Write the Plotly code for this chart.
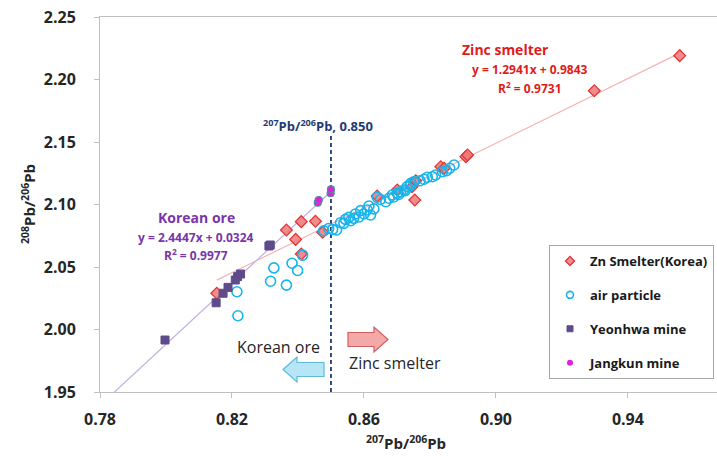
import plotly.graph_objects as go

# ---------------- data ----------------
zn_x = [0.8154, 0.8365, 0.8410, 0.8453, 0.8393, 0.8410, 0.8475, 0.8640, 0.8701,
        0.8746, 0.8757, 0.8754, 0.8833, 0.8843, 0.8909, 0.8914, 0.9298, 0.9557]
zn_y = [2.0290, 2.0796, 2.0863, 2.0866, 2.0721, 2.0604, 2.0778, 2.1068, 2.1116,
        2.1143, 2.1190, 2.1036, 2.1302, 2.1290, 2.1383, 2.1396, 2.1910, 2.2191]

air_x = [0.8218, 0.8215, 0.8317, 0.8327, 0.8365, 0.8382, 0.8399, 0.8414, 0.8478,
         0.8493, 0.8505, 0.8517, 0.8529, 0.8539, 0.8544, 0.8554, 0.8560, 0.8569,
         0.8574, 0.8585, 0.8590, 0.8600, 0.8610, 0.8615, 0.8620, 0.8630, 0.8640,
         0.8650, 0.8666, 0.8676, 0.8686, 0.8690, 0.8701, 0.8705, 0.8711, 0.8721,
         0.8725, 0.8731, 0.8740, 0.8742, 0.8751, 0.8770, 0.8782, 0.8792, 0.8807,
         0.8817, 0.8838, 0.8850, 0.8860, 0.8873]
air_y = [2.0110, 2.0302, 2.0386, 2.0493, 2.0355, 2.0530, 2.0472, 2.0595, 2.0790,
         2.0808, 2.0800, 2.0796, 2.0854, 2.0849, 2.0881, 2.0897, 2.0870, 2.0889,
         2.0924, 2.0900, 2.0951, 2.0924, 2.0956, 2.0988, 2.0916, 2.0965, 2.1058,
         2.1040, 2.1022, 2.1050, 2.1076, 2.1060, 2.1090, 2.1080, 2.1102, 2.1116,
         2.1110, 2.1143, 2.1150, 2.1170, 2.1182, 2.1190, 2.1202, 2.1218, 2.1222,
         2.1236, 2.1262, 2.1270, 2.1290, 2.1316]

yeon_x = [0.7997, 0.8152, 0.8173, 0.8188, 0.8210, 0.8217, 0.8226, 0.8312, 0.8316]
yeon_y = [1.9916, 2.0214, 2.0290, 2.0337, 2.0396, 2.0423, 2.0444, 2.0668, 2.0676]

jang_x = [0.8460, 0.8463, 0.8499, 0.8500]
jang_y = [2.1015, 2.1036, 2.1090, 2.1121]

zn_slope, zn_intercept = 1.2941, 0.9843
ko_slope, ko_intercept = 2.4447, 0.0324
divide_x = 0.850

x_ticks = [0.78, 0.82, 0.86, 0.90, 0.94]
y_ticks = [1.95, 2.00, 2.05, 2.10, 2.15, 2.20, 2.25]

# ---------------- layout helpers ----------------
W, H = 717, 456
L, R, T, B = 100, 0, 17, 64
PW, PH = W - L - R, H - T - B


def pp(px, py):
    return (px - L) / PW, (H - B - py) / PH


FONT = "Open Sans"

fig = go.Figure()

# trend lines
zx = [min(zn_x), max(zn_x)]
fig.add_trace(go.Scatter(x=zx, y=[zn_slope * v + zn_intercept for v in zx], mode="lines",
                         line=dict(color="#f5b4b4", width=1.2), showlegend=False, hoverinfo="skip"))
kx = [x_ticks[0], max(jang_x) + 0.0005]
fig.add_trace(go.Scatter(x=kx, y=[ko_slope * v + ko_intercept for v in kx], mode="lines",
                         line=dict(color="#c0b0e0", width=1.2), showlegend=False, hoverinfo="skip"))

# dashed divider
fig.add_trace(go.Scatter(x=[divide_x, divide_x], y=[1.95, 2.155], mode="lines",
                         line=dict(color="#1f3b73", width=1.8, dash="4px,3px"),
                         showlegend=False, hoverinfo="skip"))

series = [
    ("Zn Smelter(Korea)", zn_x, zn_y, dict(symbol="diamond", color="rgba(240,120,120,0.85)",
                                          line=dict(color="#e03535", width=1.3)), 9, 7),
    ("air particle", air_x, air_y, dict(symbol="circle-open", color="#18b4ec",
                                        line=dict(color="#18b4ec", width=1.6)), 10, 7),
    ("Yeonhwa mine", yeon_x, yeon_y, dict(symbol="square", color="#5f4b8b",
                                          line=dict(color="#5f4b8b", width=1)), 8, 6),
    ("Jangkun mine", jang_x, jang_y, dict(symbol="circle", color="#e020e0",
                                          line=dict(color="#4a8f9a", width=1.2)), 7, 6),
]
for name, xs, ys, mk, size, lsize in series:
    fig.add_trace(go.Scatter(x=xs, y=ys, mode="markers", name=name, showlegend=False,
                             marker=dict(size=size, **mk)))
for i, (name, xs, ys, mk, size, lsize) in enumerate(series):
    mk2 = dict(mk)
    if name == "Jangkun mine":
        mk2 = dict(mk, line=dict(color="#e020e0", width=0))
    fig.add_trace(go.Scatter(x=[None], y=[None], mode="markers", name=name, legendgroup=f"g{i}",
                             marker=dict(size=lsize, **mk2)))

ann = []


def add_text(px, py, text, size, color, bold=False, angle=0, xanchor="center"):
    x, y = pp(px, py)
    ann.append(dict(x=x, y=y, xref="paper", yref="paper", text=text, showarrow=False,
                    xanchor=xanchor, yanchor="middle", textangle=angle,
                    font=dict(family=FONT, size=size, color=color, weight="bold" if bold else "normal")))


add_text(505, 49, "Zinc smelter", 14, "#e01b1b", True)
add_text(530, 69, "y = 1.2941x + 0.9843", 12, "#e01b1b", True)
add_text(530, 88, "R<sup>2</sup> = 0.9731", 12, "#e01b1b", True)
add_text(196, 217, "Korean ore", 14, "#7a35a8", True)
add_text(196, 237, "y = 2.4447x + 0.0324", 12, "#7a35a8", True)
add_text(196, 255, "R<sup>2</sup> = 0.9977", 12, "#7a35a8", True)
add_text(318, 125, "<sup>207</sup>Pb/<sup>206</sup>Pb, 0.850", 13, "#1f3b73", True)
add_text(278, 347, "Korean ore", 16, "#262626")
add_text(395, 363, "Zinc smelter", 16, "#262626")
add_text(406, 442, "<sup>207</sup>Pb/<sup>206</sup>Pb", 15, "#262626", True)
add_text(28, 204, "<sup>208</sup>Pb/<sup>206</sup>Pb", 15, "#262626", True, angle=-90)


def poly(points):
    s = ""
    for i, (px, py) in enumerate(points):
        x, y = pp(px, py)
        s += ("M" if i == 0 else "L") + f"{x:.5f},{y:.5f} "
    return s + "Z"


shapes = [
    dict(type="path", xref="paper", yref="paper",
         path=poly([(283, 369.5), (297, 357), (297, 362.5), (324, 362.5), (324, 376.5), (297, 376.5), (297, 382)]),
         fillcolor="#b6e6f6", line=dict(color="#5bbbd8", width=1.2)),
    dict(type="path", xref="paper", yref="paper",
         path=poly([(388, 339.5), (374, 327), (374, 332.5), (348, 332.5), (348, 346.5), (374, 346.5), (374, 352)]),
         fillcolor="#f4a9a9", line=dict(color="#d06060", width=1.2)),
]

lx, ly = pp(549, 245)
fig.update_layout(
    width=W, height=H, margin=dict(l=L, r=R, t=T, b=B),
    paper_bgcolor="white", plot_bgcolor="white",
    annotations=ann, shapes=shapes,
    legend=dict(x=lx, y=ly, xanchor="left", yanchor="top", bordercolor="#a6a6a6", borderwidth=1,
                bgcolor="white", tracegroupgap=14, itemwidth=30, traceorder="grouped",
                font=dict(family=FONT, size=13, color="#1a1a1a", weight="bold")),
    xaxis=dict(range=[0.78, 0.967], tickvals=x_ticks, ticktext=[f"{v:.2f}" for v in x_ticks],
               showline=True, linecolor="#c0c0c0", linewidth=1, mirror=True, ticks="outside",
               ticklen=5, tickcolor="#c0c0c0", showgrid=False, zeroline=False, ticklabelstandoff=8,
               tickfont=dict(family=FONT, size=16, color="#262626", weight="bold")),
    yaxis=dict(range=[1.95, 2.25], tickvals=y_ticks, ticktext=[f"{v:.2f}" for v in y_ticks],
               showline=True, linecolor="#c0c0c0", linewidth=1, ticks="outside",
               ticklen=5, tickcolor="#c0c0c0", showgrid=False, zeroline=False, ticklabelstandoff=15,
               tickfont=dict(family=FONT, size=16, color="#262626", weight="bold")),
    font=dict(family=FONT),
)

fig.write_html("out.html", config={"displayModeBar": False},
               post_script="document.body.style.margin='0';")
